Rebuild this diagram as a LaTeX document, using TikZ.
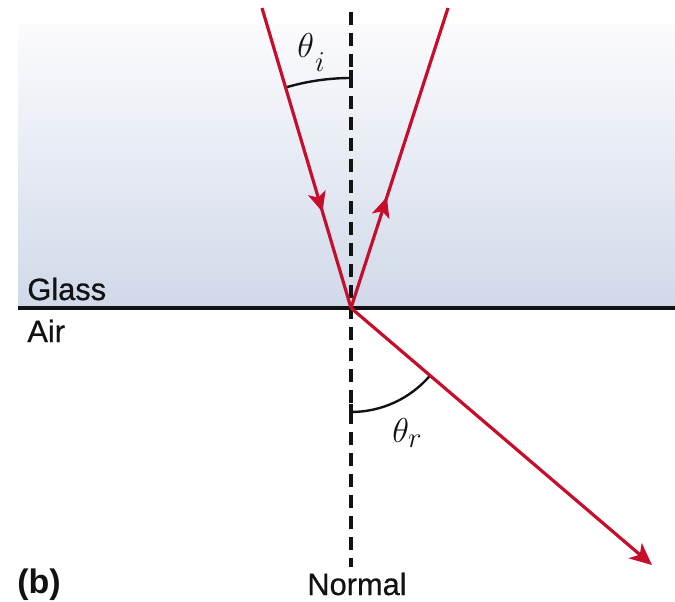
\documentclass[tikz,border=0pt]{standalone}
\usepackage{fontspec}
\setmainfont{Liberation Sans}
\newfontfamily\medfont[FakeBold=0.7]{Liberation Sans}
\DeclareMathSizes{17}{17}{14}{10}
\usetikzlibrary{arrows.meta,decorations.markings,calc}
\definecolor{rayred}{RGB}{198,14,44}
\definecolor{glasstop}{RGB}{251,251,253}
\definecolor{glassbot}{RGB}{208,217,233}
\definecolor{ink}{RGB}{18,18,18}
\tikzset{
  ray/.style={draw=rayred, line width=1.6pt},
  normalline/.style={draw=ink, line width=1.7pt, dash pattern=on 6.5pt off 4pt},
  anglearc/.style={draw=ink, line width=1.2pt},
  tick/.style={draw=ink, line width=1.7pt},
  lbl/.style={inner sep=0pt, font=\medfont\fontsize{15.4}{18}\selectfont, text=ink},
  mathlbl/.style={inner sep=0pt, font=\fontsize{17}{20}\selectfont, text=ink},
  headsmall/.style={},
}
\begin{document}
\begin{tikzpicture}[x=0.5pt, y=0.5pt]
\useasboundingbox (0,0) rectangle (675,601);
% glass region
\shade[top color=glasstop, bottom color=glassbot] (18,293) rectangle (675,576);
% key points
\coordinate (O) at (351,293);
\coordinate (itop) at (262,593);
\coordinate (rtop) at (448,593);
\coordinate (tend) at (652,36);
\coordinate (ntop) at (351,589);
\coordinate (nbot) at (351,34);
\coordinate (ileft) at (18,293);
\coordinate (iright) at (675,293);
% normal
\draw[normalline] (ntop) -- (nbot);
% interface
\draw[draw=ink, line width=1.6pt] (ileft) -- (iright);
% angle arcs
\coordinate (ai) at ($(O)+(0,230)$);
\draw[anglearc] (ai) arc[start angle=90, end angle=106.7, radius=115pt];
\draw[tick] ($(ai)+(0,-8)$) -- ($(ai)+(0,8)$);
\coordinate (ar) at ($(O)+(0,-104)$);
\draw[anglearc] (ar) arc[start angle=-90, end angle=-40.5, radius=52pt];
\draw[tick] ($(ar)+(0,-8)$) -- ($(ar)+(0,8)$);
% rays
\draw[ray, postaction={decorate}, decoration={markings, mark=at position 0.68 with {\arrow{Stealth[length=10pt, width=9pt, inset=2.5pt]}}}] (itop) -- (O);
\draw[ray, postaction={decorate}, decoration={markings, mark=at position 0.37 with {\arrow{Stealth[length=10pt, width=9pt, inset=2.5pt]}}}] (O) -- (rtop);
\draw[ray, -{Stealth[length=11pt, width=10pt, inset=3pt]}] (O) -- (tend);
% labels
\node[lbl, anchor=base west] (glass) at (27,301) {Glass};
\node[lbl, anchor=base west] (air) at (27,259) {Air};
\node[lbl, anchor=base west, font=\fontsize{17}{20}\selectfont\bfseries] (b) at (17,8) {(b)};
\node[lbl, anchor=base] (normal) at (357,6) {Normal};
\node[mathlbl, anchor=base west] (thi) at (297,543) {$\theta_{\kern1pt\lower4pt\hbox{$\scriptstyle i$}}$};
\node[mathlbl, anchor=base west] (thr) at (392,159) {$\theta_r$};
\end{tikzpicture}
\end{document}
